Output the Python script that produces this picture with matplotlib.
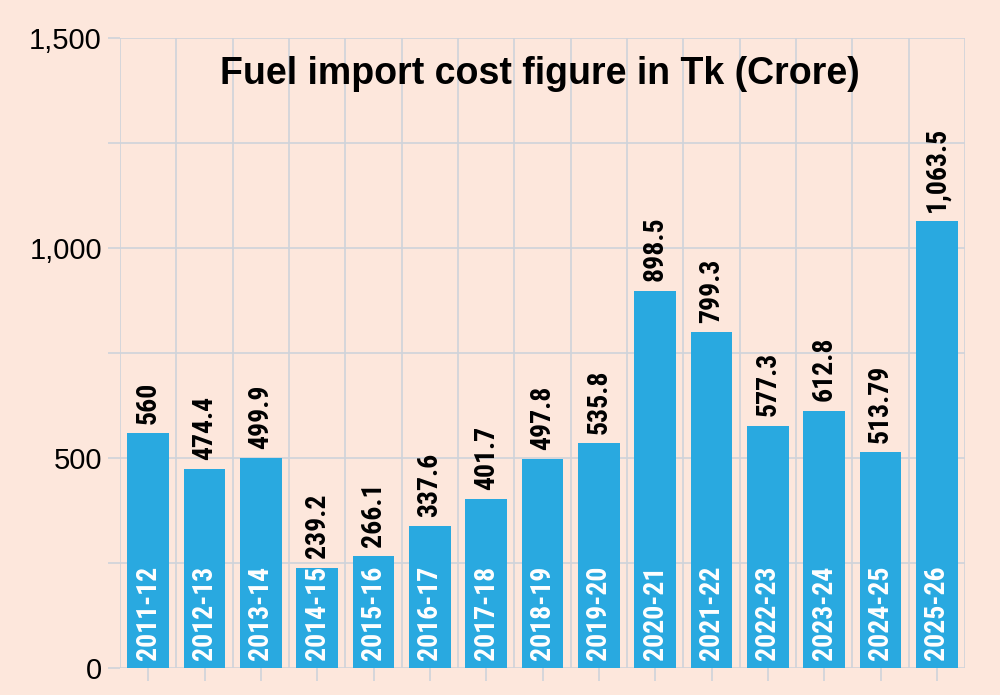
import matplotlib
matplotlib.use('Agg')
import matplotlib.pyplot as plt
from matplotlib.ticker import MultipleLocator, FixedLocator, FuncFormatter

# Fuel import cost by fiscal year, Tk crore
years = ['2011-12', '2012-13', '2013-14', '2014-15', '2015-16', '2016-17', '2017-18',
         '2018-19', '2019-20', '2020-21', '2021-22', '2022-23', '2023-24', '2024-25', '2025-26']
costs = [560, 474.4, 499.9, 239.2, 266.1, 337.6, 401.7, 497.8, 535.8,
         898.5, 799.3, 577.3, 612.8, 513.79, 1063.5]
value_labels = ['560', '474.4', '499.9', '239.2', '266.1', '337.6', '401.7', '497.8', '535.8',
                '898.5', '799.3', '577.3', '612.8', '513.79', '1,063.5']
y_ticks = [0, 500, 1000, 1500]

bg = '#fde7dc'
bar_col = '#29a9e0'
grid_col = '#cfd3da'
narrow = ['Roboto Condensed', 'Liberation Sans', 'DejaVu Sans']

plt.rcParams['font.family'] = ['Liberation Sans', 'DejaVu Sans']

fig = plt.figure(figsize=(10, 6.95), dpi=100, facecolor=bg)
ax = fig.add_axes([0.120, 0.0388, 0.845, 0.9065])
ax.set_facecolor(bg)

x = list(range(len(years)))
ax.bar(x, costs, width=0.74, color=bar_col, zorder=2)

ax.set_xlim(-0.5, len(years) - 0.5)
ax.set_ylim(0, 1500)

# gridlines: every 250 on y, slot boundaries on x
ax.yaxis.set_major_locator(FixedLocator(y_ticks))
ax.yaxis.set_minor_locator(MultipleLocator(250))
ax.yaxis.set_major_formatter(FuncFormatter(lambda v, p: f'{int(v):,}'))
ax.xaxis.set_major_locator(FixedLocator(x))
ax.xaxis.set_minor_locator(FixedLocator([i - 0.5 for i in range(len(years) + 1)]))
ax.set_xticklabels([])

ax.grid(which='minor', axis='both', color=grid_col, linewidth=1.2, zorder=0)
ax.grid(which='major', axis='y', color=grid_col, linewidth=1.2, zorder=0)
ax.set_axisbelow(True)

ax.tick_params(axis='y', which='both', length=9, color=grid_col, width=1.2,
               labelsize=21, pad=4, labelcolor='black')
ax.tick_params(axis='x', which='major', length=9, color=grid_col, width=1.2, direction='out')
ax.tick_params(axis='x', which='minor', length=0)

for s in ax.spines.values():
    s.set_visible(False)

for i in x:
    ax.text(i, costs[i] + 22, value_labels[i], rotation=90, ha='center', va='bottom',
            fontsize=20, fontweight='bold', family=narrow, color='black', zorder=3)
    ax.text(i, 20, years[i], rotation=90, ha='center', va='bottom',
            fontsize=20, fontweight='bold', family=narrow, color='white', zorder=3)

fig.text(0.54, 0.893, 'Fuel import cost figure in Tk (Crore)', ha='center', va='center',
         fontsize=27, fontweight='bold', color='black')

fig.savefig('out.png', dpi=100, facecolor=bg)
